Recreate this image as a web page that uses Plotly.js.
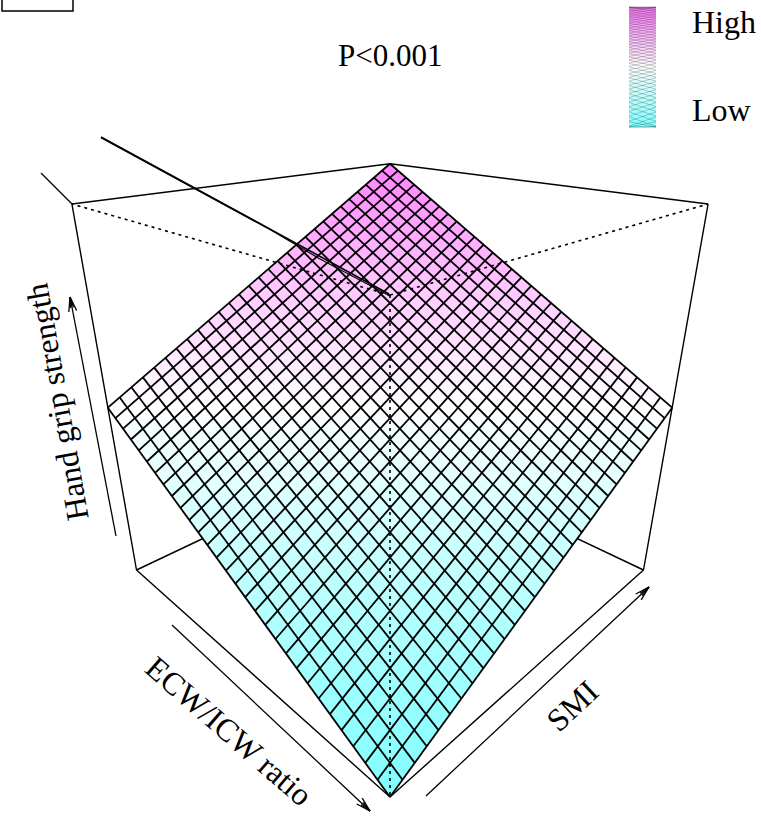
<!DOCTYPE html>
<html><head><meta charset="utf-8">
<script src="https://cdn.plot.ly/plotly-3.0.1.min.js"></script>
<style>html,body{margin:0;padding:0;background:#fff}#c{width:761px;height:816px}</style>
</head><body><div id="c"></div>
<script>
// Data (relative units)
const smiLevels = [0,1,2,3,4,5,6,7,8,9,10,11,12,13,14,15,16,17,18,19,20,21,22,23,24,25,26,27,28,29];
const ratioLevels = [0,1,2,3,4,5,6,7,8,9,10,11,12,13,14,15,16,17,18,19,20,21,22,23,24,25,26,27,28,29];
const gripRows = [
[29,28,27,26,25,24,23,22,21,20,19,18,17,16,15,14,13,12,11,10,9,8,7,6,5,4,3,2,1,0],
[30,29,28,27,26,25,24,23,22,21,20,19,18,17,16,15,14,13,12,11,10,9,8,7,6,5,4,3,2,1],
[31,30,29,28,27,26,25,24,23,22,21,20,19,18,17,16,15,14,13,12,11,10,9,8,7,6,5,4,3,2],
[32,31,30,29,28,27,26,25,24,23,22,21,20,19,18,17,16,15,14,13,12,11,10,9,8,7,6,5,4,3],
[33,32,31,30,29,28,27,26,25,24,23,22,21,20,19,18,17,16,15,14,13,12,11,10,9,8,7,6,5,4],
[34,33,32,31,30,29,28,27,26,25,24,23,22,21,20,19,18,17,16,15,14,13,12,11,10,9,8,7,6,5],
[35,34,33,32,31,30,29,28,27,26,25,24,23,22,21,20,19,18,17,16,15,14,13,12,11,10,9,8,7,6],
[36,35,34,33,32,31,30,29,28,27,26,25,24,23,22,21,20,19,18,17,16,15,14,13,12,11,10,9,8,7],
[37,36,35,34,33,32,31,30,29,28,27,26,25,24,23,22,21,20,19,18,17,16,15,14,13,12,11,10,9,8],
[38,37,36,35,34,33,32,31,30,29,28,27,26,25,24,23,22,21,20,19,18,17,16,15,14,13,12,11,10,9],
[39,38,37,36,35,34,33,32,31,30,29,28,27,26,25,24,23,22,21,20,19,18,17,16,15,14,13,12,11,10],
[40,39,38,37,36,35,34,33,32,31,30,29,28,27,26,25,24,23,22,21,20,19,18,17,16,15,14,13,12,11],
[41,40,39,38,37,36,35,34,33,32,31,30,29,28,27,26,25,24,23,22,21,20,19,18,17,16,15,14,13,12],
[42,41,40,39,38,37,36,35,34,33,32,31,30,29,28,27,26,25,24,23,22,21,20,19,18,17,16,15,14,13],
[43,42,41,40,39,38,37,36,35,34,33,32,31,30,29,28,27,26,25,24,23,22,21,20,19,18,17,16,15,14],
[44,43,42,41,40,39,38,37,36,35,34,33,32,31,30,29,28,27,26,25,24,23,22,21,20,19,18,17,16,15],
[45,44,43,42,41,40,39,38,37,36,35,34,33,32,31,30,29,28,27,26,25,24,23,22,21,20,19,18,17,16],
[46,45,44,43,42,41,40,39,38,37,36,35,34,33,32,31,30,29,28,27,26,25,24,23,22,21,20,19,18,17],
[47,46,45,44,43,42,41,40,39,38,37,36,35,34,33,32,31,30,29,28,27,26,25,24,23,22,21,20,19,18],
[48,47,46,45,44,43,42,41,40,39,38,37,36,35,34,33,32,31,30,29,28,27,26,25,24,23,22,21,20,19],
[49,48,47,46,45,44,43,42,41,40,39,38,37,36,35,34,33,32,31,30,29,28,27,26,25,24,23,22,21,20],
[50,49,48,47,46,45,44,43,42,41,40,39,38,37,36,35,34,33,32,31,30,29,28,27,26,25,24,23,22,21],
[51,50,49,48,47,46,45,44,43,42,41,40,39,38,37,36,35,34,33,32,31,30,29,28,27,26,25,24,23,22],
[52,51,50,49,48,47,46,45,44,43,42,41,40,39,38,37,36,35,34,33,32,31,30,29,28,27,26,25,24,23],
[53,52,51,50,49,48,47,46,45,44,43,42,41,40,39,38,37,36,35,34,33,32,31,30,29,28,27,26,25,24],
[54,53,52,51,50,49,48,47,46,45,44,43,42,41,40,39,38,37,36,35,34,33,32,31,30,29,28,27,26,25],
[55,54,53,52,51,50,49,48,47,46,45,44,43,42,41,40,39,38,37,36,35,34,33,32,31,30,29,28,27,26],
[56,55,54,53,52,51,50,49,48,47,46,45,44,43,42,41,40,39,38,37,36,35,34,33,32,31,30,29,28,27],
[57,56,55,54,53,52,51,50,49,48,47,46,45,44,43,42,41,40,39,38,37,36,35,34,33,32,31,30,29,28],
[58,57,56,55,54,53,52,51,50,49,48,47,46,45,44,43,42,41,40,39,38,37,36,35,34,33,32,31,30,29]
];
const axisNames = ['SMI','ECW/ICW ratio','Hand grip strength'];
const pLabel = 'P<0.001';
const legendLabels = ['High','Low'];

// perspective projection of the unit box onto the page
function project(u,v,z){
  const a=u+v-1, d=u-v, w=1+0.3078*d-0.203*z;
  return [390+253.5*a/w, (18.3*d+570-407.4*z)/w];
}
const uMax=smiLevels[smiLevels.length-1], vMax=ratioLevels[ratioLevels.length-1], zMax=58;
const P=(i,j)=>project(smiLevels[i]/uMax,ratioLevels[j]/vMax,gripRows[i][j]/zMax);
function cm(t){ // cyan - white - magenta
  const lo=v=>Math.round(255*v);
  return t<0.5?`rgb(${lo(0.5+t)},255,255)`:`rgb(255,${lo(1-(t-0.5))},255)`;
}
const traces=[];
function seg(list,opts){
  const x=[],y=[];
  list.forEach(s=>{s.forEach(c=>{const p=project(c[0],c[1],c[2]);x.push(p[0]);y.push(p[1]);});x.push(null);y.push(null);});
  return {type:'scatter',mode:'lines',x,y,hoverinfo:'skip',showlegend:false,line:Object.assign({color:'#000',width:1.4},opts||{})};
}
const F0=[0,1,0],L0=[0,0,0],R0=[1,1,0],B0=[1,0,0],F1=[0,1,1],L1=[0,0,1],R1=[1,1,1],B1=[1,0,1];
traces.push(seg([[L0,B0],[R0,B0],[B0,B1],[L1,B1],[R1,B1],[L1,L0],[R1,R0]]));
// facets grouped by colour
const groups={};
for(let i=0;i<smiLevels.length-1;i++)for(let j=0;j<ratioLevels.length-1;j++){
  const m=(gripRows[i][j]+gripRows[i+1][j]+gripRows[i][j+1]+gripRows[i+1][j+1])/4/zMax;
  const k=m.toFixed(4); const g=groups[k]||(groups[k]={x:[],y:[],t:m});
  [P(i,j),P(i+1,j),P(i+1,j+1),P(i,j+1),P(i,j)].forEach(p=>{g.x.push(p[0]);g.y.push(p[1]);});
  g.x.push(null);g.y.push(null);
}
Object.values(groups).forEach(g=>traces.push({type:'scatter',mode:'lines',x:g.x,y:g.y,fill:'toself',fillcolor:cm(g.t),line:{width:0},hoverinfo:'skip',showlegend:false}));
// mesh
const mx=[],my=[];
for(let i=0;i<smiLevels.length;i++){for(let j=0;j<ratioLevels.length;j++){const p=P(i,j);mx.push(p[0]);my.push(p[1]);}mx.push(null);my.push(null);}
for(let j=0;j<ratioLevels.length;j++){for(let i=0;i<smiLevels.length;i++){const p=P(i,j);mx.push(p[0]);my.push(p[1]);}mx.push(null);my.push(null);}
traces.push({type:'scatter',mode:'lines',x:mx,y:my,line:{color:'#000',width:1.8},hoverinfo:'skip',showlegend:false});
// front of the box
traces.push(seg([[F0,L0],[F0,R0]]));
traces.push(seg([[F1,L1],[F1,R1],[F1,F0]],{dash:'3px,4px',width:1.6}));
// colour key
const keyLevels=[];for(let k=0;k<=58;k++)keyLevels.push(k);
const keyEdges=[];for(let k=0;k<=59;k++)keyEdges.push(127-120*k/59);
traces.push({type:'heatmap',x:[629,656],y:keyEdges,z:keyLevels.map(k=>[k]),zmin:0,zmax:58,showscale:false,hoverinfo:'skip',
  colorscale:[[0,'rgb(128,255,255)'],[0.5,'rgb(255,255,255)'],[1,'rgb(255,128,255)']]});
const keyY=t=>7+120*(project(t,1-t,t)[1]-163.7)/(797-163.7);
const kx=[],ky=[];
for(let k=-3;k<=58;k+=1.6){
  const a=Math.max(0,Math.min(1,k/58)),b=Math.max(0,Math.min(1,(k+3)/58));
  kx.push(629,656,null,629,656,null);ky.push(keyY(a),keyY(b),null,keyY(b),keyY(a),null);
}
traces.push({type:'scatter',mode:'lines',x:kx,y:ky,line:{color:'rgba(0,0,0,0.3)',width:0.7},hoverinfo:'skip',showlegend:false});
// axis arrows
const ax=[],ay=[];
[[116,536,70,297],[172,625,370,811],[426,796,649,587]].forEach(e=>{
  ax.push(e[0],e[2],null);ay.push(e[1],e[3],null);
  const th=Math.atan2(e[1]-e[3],e[0]-e[2]);
  [[15,0.27],[15,-0.27],[11,0.14],[11,-0.14]].forEach(b=>{
    ax.push(e[2],e[2]+b[0]*Math.cos(th+b[1]),null);ay.push(e[3],e[3]+b[0]*Math.sin(th+b[1]),null);
  });
});
traces.push({type:'scatter',mode:'lines',x:ax,y:ay,line:{color:'#000',width:1.3},hoverinfo:'skip',showlegend:false});

const font={family:'"Liberation Serif","Times New Roman",serif',size:32,color:'#000'};
const lab=(text,x,y,angle,anchor,size)=>({text,x,y,xref:'x',yref:'y',showarrow:false,textangle:angle||0,font:Object.assign({},font,size?{size}:{}),xanchor:anchor||'center',yanchor:'middle'});
const ln=(x0,y0,x1,y1,w)=>({type:'line',xref:'x',yref:'y',x0,y0,x1,y1,line:{color:'#000',width:w}});
const layout={width:761,height:816,margin:{l:0,r:0,t:0,b:0},paper_bgcolor:'#fff',plot_bgcolor:'#fff',showlegend:false,
  xaxis:{range:[0,761],visible:false,fixedrange:true},
  yaxis:{range:[816,0],visible:false,fixedrange:true},
  annotations:[
    lab(pLabel,390,55,0,'center',31),
    lab(legendLabels[0],690,22,0,'left'),
    lab(legendLabels[1],690,110,0,'left'),
    lab(axisNames[2],57,402,-100),
    lab(axisNames[1],229,731,41),
    lab(axisNames[0],572,706,-43)
  ],
  shapes:[
    {type:'rect',xref:'x',yref:'y',x0:2,x1:73,y0:-6,y1:11,line:{color:'#000',width:1.5}},
    ln(41,173,72,204,1.3),
    ln(101,137,389,294,1.6),
    ln(101,137.6,270,229.4,1.6),
    ln(270,229.4,320,259,1.2),
    ln(320,259,390,296,1.2)
  ]};
Plotly.newPlot('c',traces,layout,{staticPlot:true,displayModeBar:false});
</script></body></html>
